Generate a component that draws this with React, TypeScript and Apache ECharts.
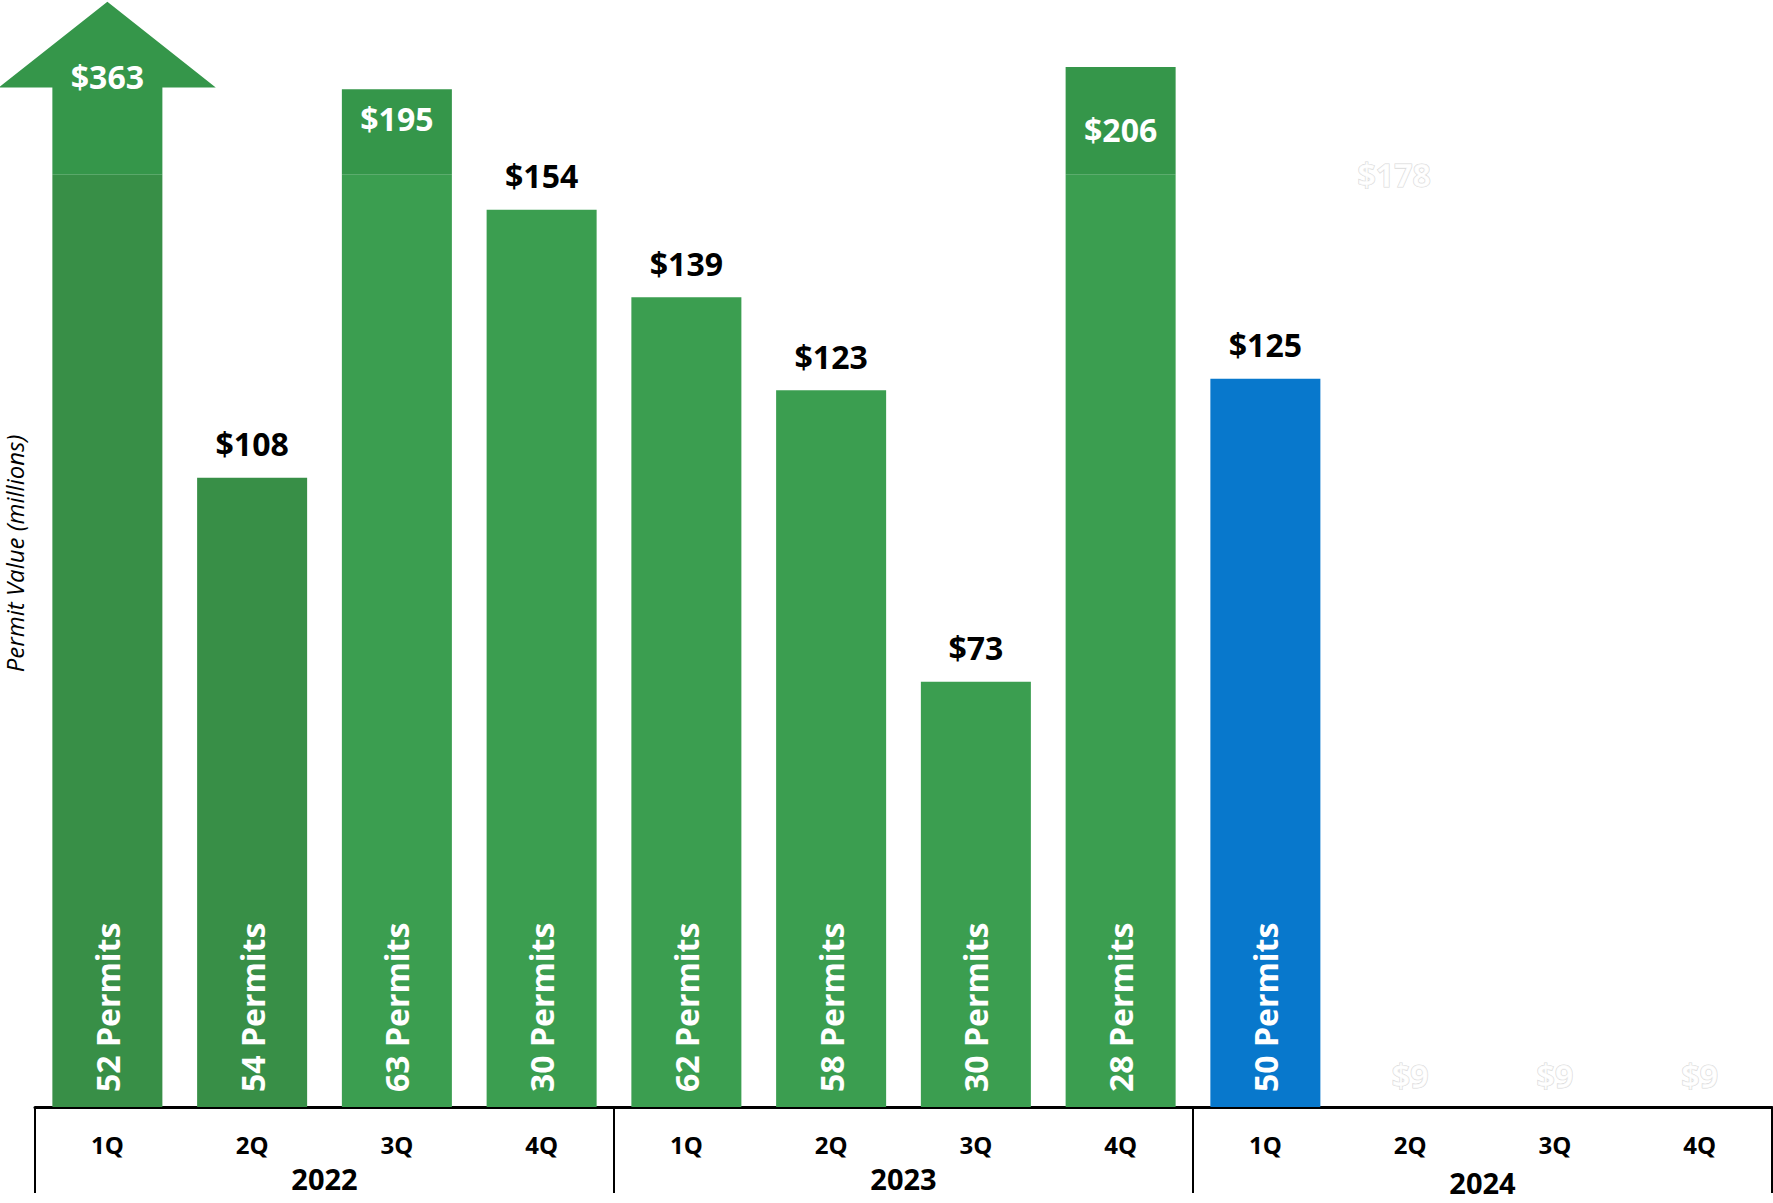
import React, { useEffect, useRef } from "react";
import * as echarts from "echarts";

const quarters = ["1Q", "2Q", "3Q", "4Q", "1Q", "2Q", "3Q", "4Q", "1Q", "2Q", "3Q", "4Q"];
const years = ["2022", "2023", "2024"];
const permitValues: (number | null)[] = [363, 108, 195, 154, 139, 123, 73, 206, 125, null, null, null];
const permitCounts: (number | null)[] = [52, 54, 63, 30, 62, 58, 30, 28, 50, null, null, null];

// broken (capped) bars: value axis level where bars are cut, and top of the cap shape
const CAP_CUT = 160;
const capIndex = [0, 2, 7];
const capTop = [175, 174.7, 178.5];
const capLabelLevel = [176.8, 169.6, 167.7];
const capShape = ["arrow", "box", "box"];
const arrowTip = 189.7;

// faint placeholder labels for future quarters
const ghostIndex = [9, 9, 10, 11];
const ghostLevel = [160, 0, 0, 0];
const ghostTexts = ["$178", "$9", "$9", "$9"];

const Y_MAX = 190;
const FONT = "'Open Sans', 'Noto Sans', sans-serif";

const DARK_GREEN = "#388f47";
const LIGHT_GREEN = "#3b9e50";
const CAP_GREEN = "#35964a";
const BLUE = "#0878cc";
const barColors = [DARK_GREEN, DARK_GREEN, LIGHT_GREEN, LIGHT_GREEN, LIGHT_GREEN, LIGHT_GREEN, LIGHT_GREEN, LIGHT_GREEN, BLUE, LIGHT_GREEN, LIGHT_GREEN, LIGHT_GREEN];

export default function App() {
  const ref = useRef<HTMLDivElement>(null);
  useEffect(() => {
    if (!ref.current) return;
    const chart = echarts.init(ref.current, undefined, { renderer: "svg" });

    const mainValues = permitValues.map((v) => (v == null ? "-" : Math.min(v, CAP_CUT)));
    const topLabelValues = permitValues.map((v, i) =>
      v == null || capIndex.includes(i) ? "-" : v
    );
    const capData = capIndex.map((c, i) => [c, capTop[i], capLabelLevel[i]]);
    const ghostData = ghostIndex.map((c, i) => ({
      value: [c, ghostLevel[i]],
      label: { offset: i === 0 ? [-16, 0] : [0, -32] },
    }));

    const option: any = {
      animation: false,
      textStyle: { fontFamily: FONT },
      grid: {
        left: 35,
        right: 1,
        top: 0,
        bottom: 96,
        containLabel: false,
        outerBoundsMode: "none",
      },
      xAxis: [
        {
          type: "category",
          data: quarters,
          axisLine: { show: true, lineStyle: { color: "#000", width: 3 } },
          axisTick: { show: false },
          axisLabel: {
            color: "#000",
            fontWeight: "bold",
            fontSize: 24,
            fontFamily: FONT,
            margin: 25,
            interval: 0,
          },
        },
        {
          type: "category",
          data: years.map((y, i) =>
            i === 2 ? { value: y, textStyle: { padding: [4, 0, 0, 0] } } : y
          ),
          position: "bottom",
          axisLine: { show: false },
          axisTick: {
            show: true,
            length: 86,
            interval: 0,
            lineStyle: { color: "#000", width: 2 },
          },
          axisLabel: {
            color: "#000",
            fontWeight: "bold",
            fontSize: 29,
            fontFamily: FONT,
            margin: 57,
            interval: 0,
          },
        },
      ],
      yAxis: {
        type: "value",
        min: 0,
        max: Y_MAX,
        axisLine: { show: false },
        axisTick: { show: false },
        axisLabel: { show: false },
        splitLine: { show: false },
        name: "Permit Value (millions)",
        nameLocation: "middle",
        nameRotate: 90,
        nameGap: 9,
        nameTextStyle: {
          color: "#000",
          fontStyle: "italic",
          fontSize: 24,
          fontFamily: FONT,
        },
      },
      series: [
        {
          type: "bar",
          name: "value",
          data: mainValues,
          barWidth: "76%",
          barGap: "-100%",
          itemStyle: {
            color: (p: any) => barColors[p.dataIndex],
          },
          label: {
            show: true,
            position: "insideBottom",
            rotate: 90,
            align: "left",
            verticalAlign: "middle",
            distance: 15,
            color: "#fff",
            fontWeight: "bold",
            fontSize: 32,
            fontFamily: FONT,
            formatter: (p: any) =>
              permitCounts[p.dataIndex] == null ? "" : `${permitCounts[p.dataIndex]} Permits`,
          },
        },
        {
          type: "bar",
          name: "labels",
          data: topLabelValues,
          barWidth: "76%",
          barGap: "-100%",
          itemStyle: { color: "rgba(0,0,0,0)" },
          label: {
            show: true,
            position: "top",
            distance: 18,
            color: "#000",
            fontWeight: "bold",
            fontSize: 32,
            fontFamily: FONT,
            formatter: (p: any) => `$${p.value}`,
          },
        },
        {
          type: "custom",
          name: "caps",
          clip: false,
          data: capData,
          encode: { x: 0, y: 1 },
          renderItem: (params: any, api: any) => {
            const i = params.dataIndex;
            const xi = api.value(0);
            const topV = api.value(1);
            const labelV = api.value(2);
            const bw = api.size([1, 0])[0] * 0.76;
            const [cx, yCut] = api.coord([xi, CAP_CUT]);
            const [, yTop] = api.coord([xi, topV]);
            const [, yLabel] = api.coord([xi, labelV]);
            const text = `$${permitValues[xi]}`;
            const textStyle = {
              text,
              fill: "#fff",
              fontSize: 32,
              fontWeight: "bold",
              fontFamily: FONT,
              align: "center",
              verticalAlign: "middle",
            };
            if (capShape[i] === "arrow") {
              const [, yTip] = api.coord([xi, arrowTip]);
              const headW = bw * 1.97;
              return {
                type: "group",
                children: [
                  {
                    type: "polygon",
                    shape: {
                      points: [
                        [cx - bw / 2, yCut],
                        [cx - bw / 2, yTop],
                        [cx - headW / 2, yTop],
                        [cx, yTip],
                        [cx + headW / 2, yTop],
                        [cx + bw / 2, yTop],
                        [cx + bw / 2, yCut],
                      ],
                    },
                    style: { fill: CAP_GREEN },
                  },
                  { type: "text", x: cx, y: yLabel, style: textStyle },
                ],
              };
            }
            return {
              type: "group",
              children: [
                {
                  type: "rect",
                  shape: { x: cx - bw / 2, y: yTop, width: bw, height: yCut - yTop },
                  style: { fill: CAP_GREEN },
                },
                { type: "text", x: cx, y: yLabel, style: textStyle },
              ],
            };
          },
        },
        {
          type: "scatter",
          name: "ghost",
          data: ghostData,
          symbolSize: 1,
          itemStyle: { color: "rgba(0,0,0,0)" },
          label: {
            show: true,
            position: "inside",
            color: "#ffffff",
            textBorderColor: "#d0d0d0",
            textBorderWidth: 1.2,
            fontWeight: "bold",
            fontSize: 32,
            fontFamily: FONT,
            formatter: (p: any) => ghostTexts[p.dataIndex],
          },
        },
      ],
    };
    chart.setOption(option);
    return () => chart.dispose();
  }, []);
  return (
    <div
      ref={ref}
      style={{ position: "fixed", left: 0, top: 0, width: 1773, height: 1203, background: "#fff" }}
    />
  );
}
